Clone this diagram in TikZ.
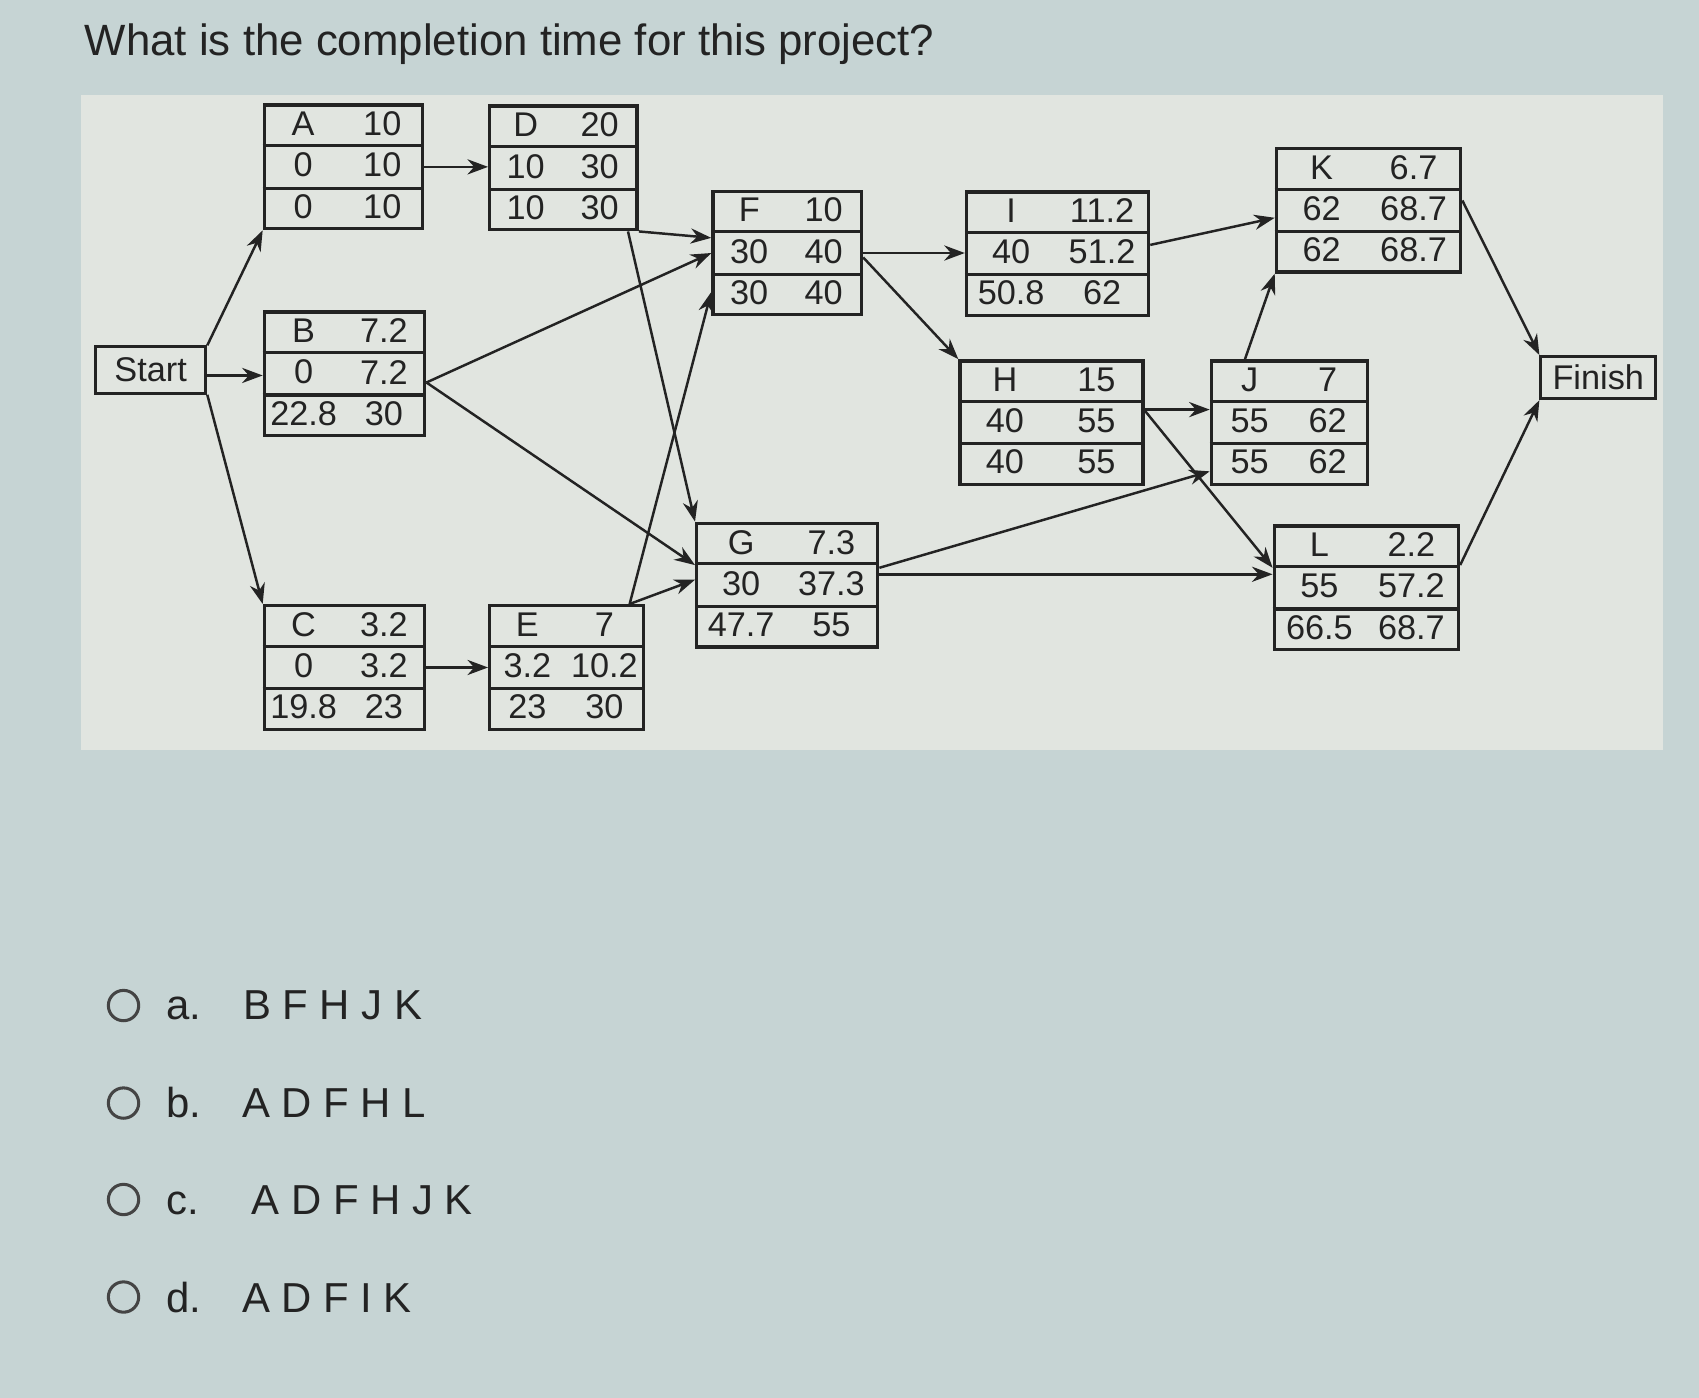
\documentclass[tikz,border=0pt]{standalone}
\usepackage{fontspec}
\setmainfont{Liberation Sans}
\usetikzlibrary{arrows.meta,calc}
\definecolor{screenbg}{HTML}{C6D4D4}
\definecolor{panelbg}{HTML}{E1E5E0}
\definecolor{ink}{HTML}{232323}

\begin{document}
\begin{tikzpicture}[x=0.2mm, y=-0.2mm,
	actbox/.style={draw=ink, line width=1.8pt, minimum height=114*0.2mm, inner sep=0pt},
	endbox/.style={draw=ink, line width=1.5pt, inner sep=0pt, text=ink, font=\fontsize{18pt}{20pt}\selectfont},
	rowline/.style={draw=ink, line width=1.6pt},
	cell/.style={inner sep=0pt, text=ink, font=\fontsize{18pt}{20pt}\selectfont},
	link/.style={draw=ink, line width=1.3pt, -{Stealth[length=3.8mm,width=2.8mm]}},
	radio/.style={circle, draw=ink!85, line width=1.6pt, minimum size=5.6mm, inner sep=0pt},
	opt/.style={anchor=base west, inner sep=0pt, text=ink, font=\fontsize{22pt}{24pt}\selectfont}]
	\def\actbox#1#2#3#4#5#6#7#8#9{%
		\node[actbox, minimum width=#3*0.2mm] (#1) at (#2) {};
		\draw[rowline] ($(#1.north west)!1/3!(#1.south west)$) -- ($(#1.north east)!1/3!(#1.south east)$);
		\draw[rowline] ($(#1.north west)!2/3!(#1.south west)$) -- ($(#1.north east)!2/3!(#1.south east)$);
		\node[cell] (#1-tl) at ($(#1.north west)!0.25!(#1.north east)+(0,19)$) {#4};
		\node[cell] (#1-tr) at ($(#1.north west)!0.74!(#1.north east)+(0,19)$) {#5};
		\node[cell] (#1-ml) at ($(#1.north west)!0.25!(#1.north east)+(0,57)$) {#6};
		\node[cell] (#1-mr) at ($(#1.north west)!0.74!(#1.north east)+(0,57)$) {#7};
		\node[cell] (#1-bl) at ($(#1.north west)!0.25!(#1.north east)+(0,95)$) {#8};
		\node[cell] (#1-br) at ($(#1.north west)!0.74!(#1.north east)+(0,95)$) {#9};
	}
	
	% screen and panel
	\fill[screenbg] (0,0) rectangle (1568,1290);
	\useasboundingbox (0,0) rectangle (1568,1290);
	\fill[panelbg] (75,88) rectangle (1535,692);
	
	\node[opt, font=\fontsize{23pt}{25pt}\selectfont] (title) at (78,51) {What is the completion time for this project?};
	
	% activities
	\node[endbox, minimum width=102*0.2mm, minimum height=43*0.2mm] (Start) at (139,341.5) {Start};
	\node[endbox, minimum width=106*0.2mm, minimum height=39*0.2mm] (Finish) at (1475,348.5) {Finish};
	
	\actbox{A}{317,154}{146}{A}{10}{0}{10}{0}{10}
	\actbox{D}{520,155}{136}{D}{20}{10}{30}{10}{30}
	\actbox{B}{318,345}{148}{B}{7.2}{0}{7.2}{22.8}{30}
	\actbox{C}{318,616}{148}{C}{3.2}{0}{3.2}{19.8}{23}
	\actbox{E}{523,616}{142}{E}{7}{3.2}{10.2}{23}{30}
	\actbox{F}{726.5,233.5}{137}{F}{10}{30}{40}{30}{40}
	\actbox{G}{726.5,540}{167}{G}{7.3}{30}{37.3}{47.7}{55}
	\actbox{I}{976,234}{168}{I}{11.2}{40}{51.2}{50.8}{62}
	\actbox{H}{970.5,390}{169}{H}{15}{40}{55}{40}{55}
	\actbox{J}{1190,390}{144}{J}{7}{55}{62}{55}{62}
	\actbox{K}{1263,194}{170}{K}{6.7}{62}{68.7}{62}{68.7}
	\actbox{L}{1261,542.5}{170}{L}{2.2}{55}{57.2}{66.5}{68.7}
	
	% precedence
	\draw[link] (Start.north east) -- (A.south west);
	\draw[link] ([yshift=-1mm]Start.east) -- ([yshift=-1mm]Start.east -| B.west);
	\draw[link] (Start.south east) -- (C.north west);
	\draw[link] (A.east) -- (A.east -| D.west);
	\draw[link] (C.east) -- (C.east -| E.west);
	\draw[link] ([yshift=-1.6mm]B.east) -- (F.west);
	\draw[link] ([yshift=-1.6mm]B.east) -- ([yshift=3.7mm]G.west);
	\draw[link] (D.south east) -- ([yshift=2.8mm]F.west);
	\draw[link] ([xshift=-2mm]D.south east) -- (G.north west);
	\draw[link] ([xshift=-2.9mm]E.north east) -- ([yshift=-7.2mm]F.west);
	\draw[link] ([xshift=-2.9mm]E.north east) -- ([yshift=1mm]G.west);
	\draw[link] (F.east) -- (F.east -| I.west);
	\draw[link] ([yshift=-0.8mm]F.east) -- (H.north west);
	\draw[link] ([yshift=1.6mm]I.east) -- ([yshift=-1.4mm]K.west);
	\draw[link] ([yshift=3.2mm]G.east) -- ([yshift=-9mm]J.west);
	\draw[link] ([yshift=2mm]G.east) -- ([yshift=2mm]G.east -| L.west);
	\draw[link] ([yshift=2.4mm]H.east) -- ([yshift=2.4mm]H.east -| J.west);
	\draw[link] ([yshift=2.2mm]H.east) -- ([yshift=3.7mm]L.west);
	\draw[link] ([xshift=-8.2mm]J.north) -- (K.south west);
	\draw[link] ([yshift=1.8mm]K.east) -- (Finish.north west);
	\draw[link] ([yshift=4.2mm]L.east) -- (Finish.south west);
	
	% answers
	\node[radio] (ra) at (114,928) {};
	\node[radio] (rb) at (114,1018) {};
	\node[radio] (rc) at (114,1107) {};
	\node[radio] (rd) at (114,1197) {};
	\node[opt] (la) at (153,941) {a.};
	\node[opt] (lb) at (153,1031) {b.};
	\node[opt] (lc) at (153,1121) {c.};
	\node[opt] (ld) at (153,1211) {d.};
	\node[opt] (ta) at (224,941) {B F H J K};
	\node[opt] (tb) at (223,1031) {A D F H L};
	\node[opt] (tc) at (232,1121) {A D F H J K};
	\node[opt] (td) at (223,1211) {A D F I K};
	
\end{tikzpicture}
\end{document}
